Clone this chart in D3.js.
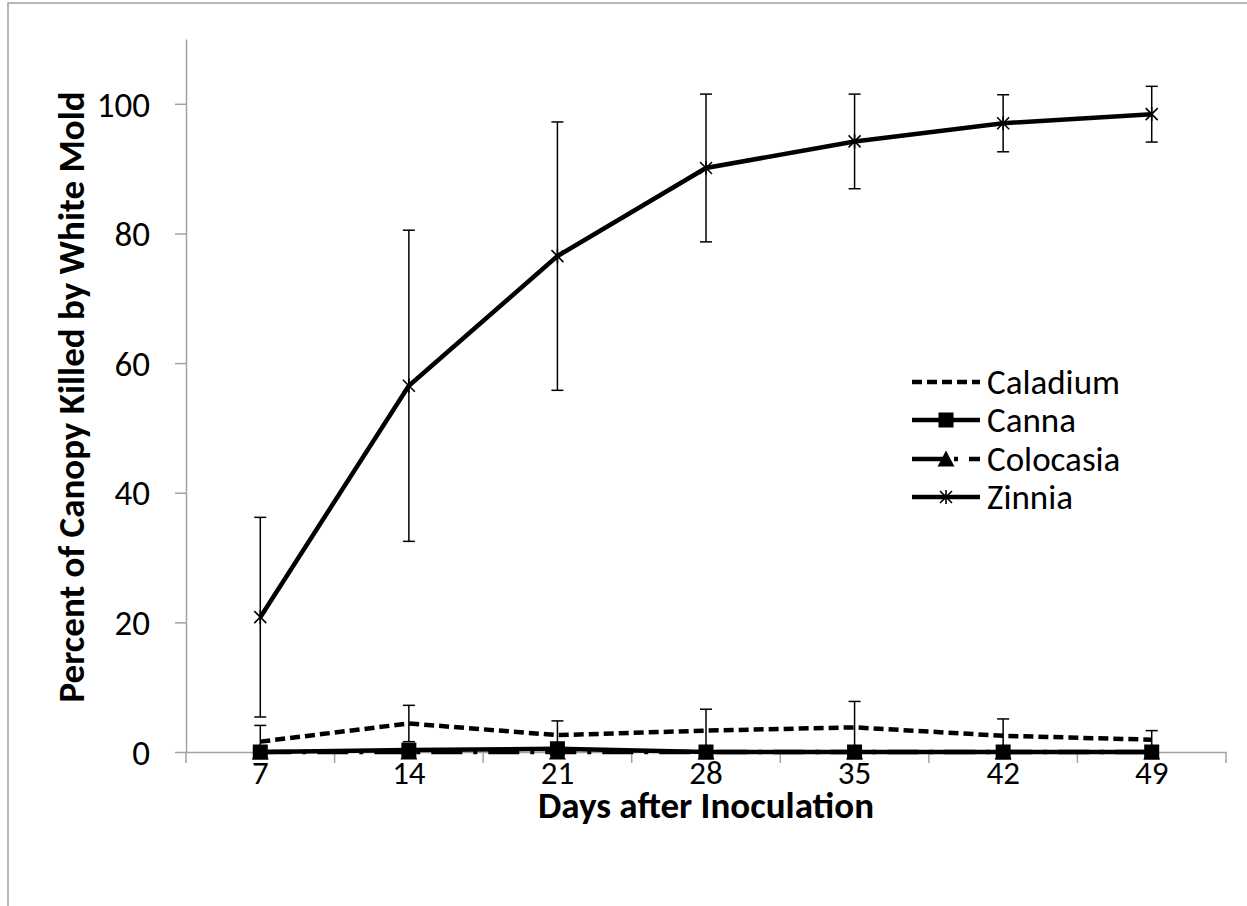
<!DOCTYPE html>
<html>
<head>
<meta charset="utf-8">
<script src="https://cdn.jsdelivr.net/npm/d3@7"></script>
<style>
  body { margin: 0; background: #fff; }
  svg text { font-family: Carlito, Calibri, Lato, 'Open Sans', sans-serif; fill: #000; }
</style>
</head>
<body>
<svg id="chart" width="1247" height="906"></svg>
<script>
// values
const days = [7, 14, 21, 28, 35, 42, 49];
const yTicks = [0, 20, 40, 60, 80, 100];

const caladium = [1.6, 4.4, 2.6, 3.3, 3.8, 2.5, 1.9];
const caladiumErr = [2.5, 2.8, 2.2, 3.3, 4.0, 2.6, 1.4];
const canna = [0, 0.3, 0.5, 0, 0, 0, 0];
const cannaErr = [0, 0.3, 0.4, 0, 0, 0, 0];
const colocasia = [0, 0, 0, 0, 0, 0, 0];
const colocasiaErr = [0, 0, 0, 0, 0, 0, 0];
const zinnia = [20.8, 56.5, 76.5, 90.1, 94.2, 97.0, 98.4];
const zinniaErr = [15.4, 24.0, 20.7, 11.4, 7.3, 4.4, 4.3];

const seriesNames = ['Caladium', 'Canna', 'Colocasia', 'Zinnia'];

const svg = d3.select('#chart');
const axisColor = '#a3a3a3';
const fontSize = 35;
const xLabelSize = 33;
const titleSize = 37;

const x = d3.scaleBand().domain(days).range([186, 1226]);
const cx = d => x(d) + x.bandwidth() / 2;
const y = d3.scaleLinear().domain([0, 110]).range([752, 39]);

// outer frame
svg.append('rect')
  .attr('x', 8).attr('y', 3)
  .attr('width', 1400).attr('height', 1000)
  .attr('fill', 'none')
  .attr('stroke', '#a6a6a6')
  .attr('stroke-width', 1.6);

svg.append('clipPath').attr('id', 'plot')
  .append('rect')
  .attr('x', 186).attr('y', 39)
  .attr('width', 1040).attr('height', 752 - 39);

// y axis
const yAxis = svg.append('g')
  .attr('transform', 'translate(186,0)')
  .call(d3.axisLeft(y).tickValues(yTicks).tickSize(11).tickSizeOuter(0).tickPadding(25));
yAxis.selectAll('line, path').attr('stroke', axisColor).attr('stroke-width', 1.5);
yAxis.selectAll('text').style('font-size', `${fontSize}px`).attr('dy', '0.35em');

// x axis: labels at category centres, ticks at category boundaries
const xAxis = svg.append('g')
  .attr('transform', 'translate(0,752)')
  .call(d3.axisBottom(x).tickSize(0).tickSizeOuter(0).tickPadding(9));
xAxis.select('path').attr('stroke', axisColor).attr('stroke-width', 1.5);
xAxis.selectAll('text').style('font-size', `${xLabelSize}px`);

const bounds = days.map(d => x(d)).concat([x.range()[1]]);
svg.append('g').selectAll('line').data(bounds).join('line')
  .attr('x1', d => d).attr('x2', d => d)
  .attr('y1', 752).attr('y2', 763)
  .attr('stroke', axisColor).attr('stroke-width', 1.5);

// axis titles
svg.append('text')
  .attr('x', 706).attr('y', 818)
  .attr('text-anchor', 'middle')
  .style('font-size', `${titleSize}px`).style('font-weight', 'bold')
  .text('Days after Inoculation');

svg.append('text')
  .attr('transform', 'translate(84,397) rotate(-90)')
  .attr('text-anchor', 'middle')
  .style('font-size', `${titleSize}px`).style('font-weight', 'bold')
  .text('Percent of Canopy Killed by White Mold');

// marker shapes
const markers = {
  square: 'M-7.5,-7.5H7.5V7.5H-7.5Z',
  triangle: 'M0,-8.5L8.5,7.5H-8.5Z',
  star: 'M-6,-6L6,6M-6,6L6,-6M0,-7V7'
};

const series = [
  { name: 'Caladium', values: caladium, err: caladiumErr, dash: '10 5', marker: null },
  { name: 'Canna', values: canna, err: cannaErr, dash: null, marker: 'square' },
  { name: 'Colocasia', values: colocasia, err: colocasiaErr, dash: '31 11 4 11', marker: 'triangle' },
  { name: 'Zinnia', values: zinnia, err: zinniaErr, dash: null, marker: 'star' }
];

const line = d3.line().x(d => cx(d.day)).y(d => y(d.v));

function drawMarker(g, kind) {
  if (kind === 'square' || kind === 'triangle') {
    g.append('path').attr('d', markers[kind]).attr('fill', '#000');
  } else if (kind === 'star') {
    g.append('path').attr('d', markers.star)
      .attr('fill', 'none').attr('stroke', '#000').attr('stroke-width', 1.6);
  }
}

series.forEach(s => {
  const pts = days.map((d, i) => ({ day: d, v: s.values[i], e: s.err[i] }));

  // error bars, clipped to the plot area like the original
  const eb = svg.append('g').attr('clip-path', 'url(#plot)');
  pts.filter(p => p.e > 0).forEach(p => {
    const px = cx(p.day);
    const yt = y(p.v + p.e);
    const yb = y(p.v - p.e);
    eb.append('line').attr('x1', px).attr('x2', px).attr('y1', yt).attr('y2', yb);
    eb.append('line').attr('x1', px - 6).attr('x2', px + 6).attr('y1', yt).attr('y2', yt);
    eb.append('line').attr('x1', px - 6).attr('x2', px + 6).attr('y1', yb).attr('y2', yb);
  });
  eb.selectAll('line').attr('stroke', '#000').attr('stroke-width', 1.5);

  svg.append('path')
    .datum(pts)
    .attr('d', line)
    .attr('fill', 'none')
    .attr('stroke', '#000')
    .attr('stroke-width', 4.5)
    .attr('stroke-dasharray', s.dash);

  if (s.marker) {
    pts.forEach(p => {
      const g = svg.append('g').attr('transform', `translate(${cx(p.day)},${y(p.v)})`);
      drawMarker(g, s.marker);
    });
  }
});

// legend
const legendRows = [382, 420, 459, 497];
series.forEach((s, i) => {
  const ly = legendRows[i];
  svg.append('line')
    .attr('x1', 912).attr('x2', 980).attr('y1', ly).attr('y2', ly)
    .attr('stroke', '#000').attr('stroke-width', 4.5)
    .attr('stroke-dasharray', s.dash);
  if (s.marker) {
    const g = svg.append('g').attr('transform', `translate(946,${ly})`);
    drawMarker(g, s.marker);
  }
  svg.append('text')
    .attr('x', 987).attr('y', ly).attr('dy', '0.35em')
    .style('font-size', `${fontSize}px`)
    .text(seriesNames[i]);
});
</script>
</body>
</html>
